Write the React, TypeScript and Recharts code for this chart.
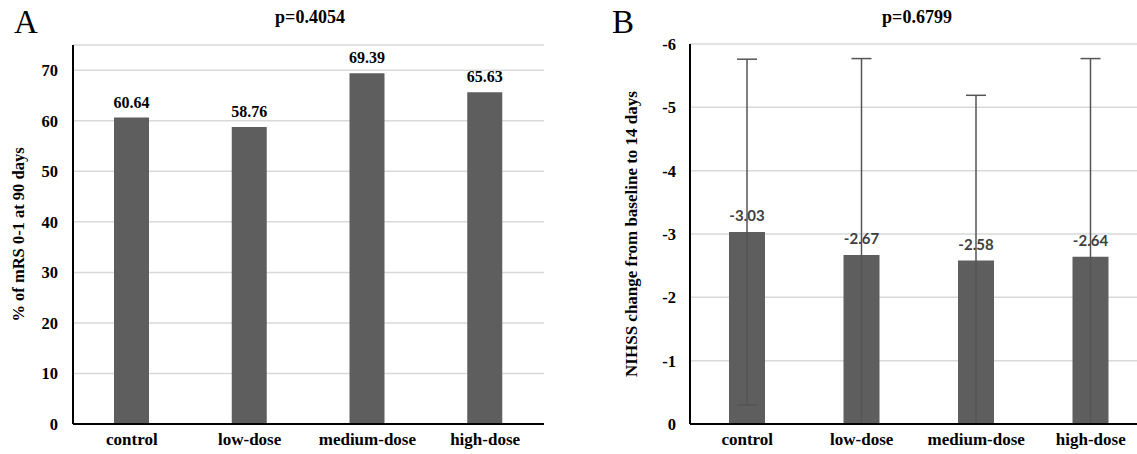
import React from 'react';
import {
  Bar,
  BarChart,
  CartesianGrid,
  ErrorBar,
  LabelList,
  XAxis,
  YAxis,
} from 'recharts';

const categories = ['control', 'low-dose', 'medium-dose', 'high-dose'];
const mrsPercent = [60.64, 58.76, 69.39, 65.63];
const nihssChange = [-3.03, -2.67, -2.58, -2.64];
const nihssSd = [2.73, 3.1, 2.61, 3.13];
const mrsTicks = [0, 10, 20, 30, 40, 50, 60, 70];
const nihssTicks = [-6, -5, -4, -3, -2, -1, 0];

const mrsData = categories.map((name, i) => ({ name, value: mrsPercent[i] }));
const nihssData = categories.map((name, i) => ({
  name,
  value: nihssChange[i],
  sd: nihssSd[i],
}));

const serif = '"Liberation Serif", "Times New Roman", serif';
const barColor = '#5e5e5e';
const gridColor = '#d9d9d9';

const tickStyle = { fontFamily: serif, fontSize: 17, fontWeight: 700, fill: '#000' };

// error bars run past the x axis in panel B; the axis minimum cuts them off
const clipCss = `.panel-b .recharts-errorBars { clip-path: url(#clip-b-plot); }`;

export default function App() {
  return (
    <div
      style={{
        position: 'absolute',
        left: 0,
        top: 0,
        width: 1137,
        height: 454,
        overflow: 'hidden',
        background: '#fff',
        fontFamily: serif,
      }}
    >
      <style>{clipCss}</style>
      <svg width={0} height={0} style={{ position: 'absolute' }}>
        <defs>
          <clipPath id="clip-b-plot" clipPathUnits="userSpaceOnUse">
            <rect x={0} y={0} width={560} height={423} />
          </clipPath>
        </defs>
      </svg>

      <div style={{ position: 'absolute', left: 14, top: 2, fontSize: 33, lineHeight: '40px' }}>A</div>
      <div style={{ position: 'absolute', left: 612, top: 2, fontSize: 33, lineHeight: '40px' }}>B</div>
      <div
        style={{
          position: 'absolute',
          left: 210,
          width: 200,
          top: 7,
          textAlign: 'center',
          fontSize: 18,
          fontWeight: 700,
        }}
      >
        p=0.4054
      </div>
      <div
        style={{
          position: 'absolute',
          left: 817,
          width: 200,
          top: 7,
          textAlign: 'center',
          fontSize: 18,
          fontWeight: 700,
        }}
      >
        p=0.6799
      </div>

      <div style={{ position: 'absolute', left: 0, top: 0 }}>
        <BarChart
          width={560}
          height={454}
          data={mrsData}
          margin={{ top: 45, right: 16, bottom: 0, left: 13 }}
          barSize={35}
        >
          <CartesianGrid vertical={false} stroke={gridColor} strokeWidth={1.5} />
          <XAxis
            dataKey="name"
            height={30}
            axisLine={{ stroke: '#000', strokeWidth: 2 }}
            tickLine={false}
            tickSize={0}
            tickMargin={9}
            tick={tickStyle}
          />
          <YAxis
            type="number"
            domain={[0, 75]}
            ticks={mrsTicks}
            width={60}
            axisLine={{ stroke: '#000', strokeWidth: 2 }}
            tickLine={false}
            tickSize={0}
            tickMargin={15}
            tick={{ ...tickStyle, fontSize: 16.5 }}
            label={{
              value: '% of mRS 0-1 at 90 days',
              angle: -90,
              position: 'insideLeft',
              offset: 5,
              style: { textAnchor: 'middle', fontFamily: serif, fontSize: 16.5, fontWeight: 700, fill: '#000' },
            }}
          />
          <Bar dataKey="value" fill={barColor} isAnimationActive={false}>
            <LabelList
              dataKey="value"
              position="top"
              offset={10}
              style={{ fontFamily: serif, fontSize: 16, fontWeight: 700, fill: '#000' }}
            />
          </Bar>
        </BarChart>
      </div>

      <div className="panel-b" style={{ position: 'absolute', left: 600, top: 0 }}>
        <BarChart
          width={560}
          height={454}
          data={nihssData}
          margin={{ top: 44, right: 12, bottom: 0, left: 28 }}
          barSize={36}
        >
          <CartesianGrid vertical={false} stroke={gridColor} strokeWidth={1.5} />
          <XAxis
            dataKey="name"
            height={30}
            axisLine={{ stroke: '#000', strokeWidth: 2 }}
            tickLine={false}
            tickSize={0}
            tickMargin={9}
            tick={tickStyle}
          />
          <YAxis
            type="number"
            domain={[-6, 0]}
            ticks={nihssTicks}
            reversed
            allowDataOverflow
            width={62}
            axisLine={{ stroke: '#000', strokeWidth: 2 }}
            tickLine={false}
            tickSize={0}
            tickMargin={14}
            tick={{ ...tickStyle, fontSize: 16.5 }}
            label={{
              value: 'NIHSS change from baseline to 14 days',
              angle: -90,
              position: 'insideLeft',
              offset: 3,
              style: { textAnchor: 'middle', fontFamily: serif, fontSize: 17, fontWeight: 700, fill: '#000' },
            }}
          />
          <Bar dataKey="value" fill={barColor} isAnimationActive={false}>
            <ErrorBar
              dataKey="sd"
              direction="y"
              width={10}
              stroke="#555"
              strokeWidth={1.5}
              isAnimationActive={false}
            />
            <LabelList
              dataKey="value"
              position="top"
              offset={11}
              style={{ fontFamily: 'Lato, "Open Sans", sans-serif', fontSize: 15, fontWeight: 700, fill: '#404040' }}
            />
          </Bar>
        </BarChart>
      </div>
    </div>
  );
}
